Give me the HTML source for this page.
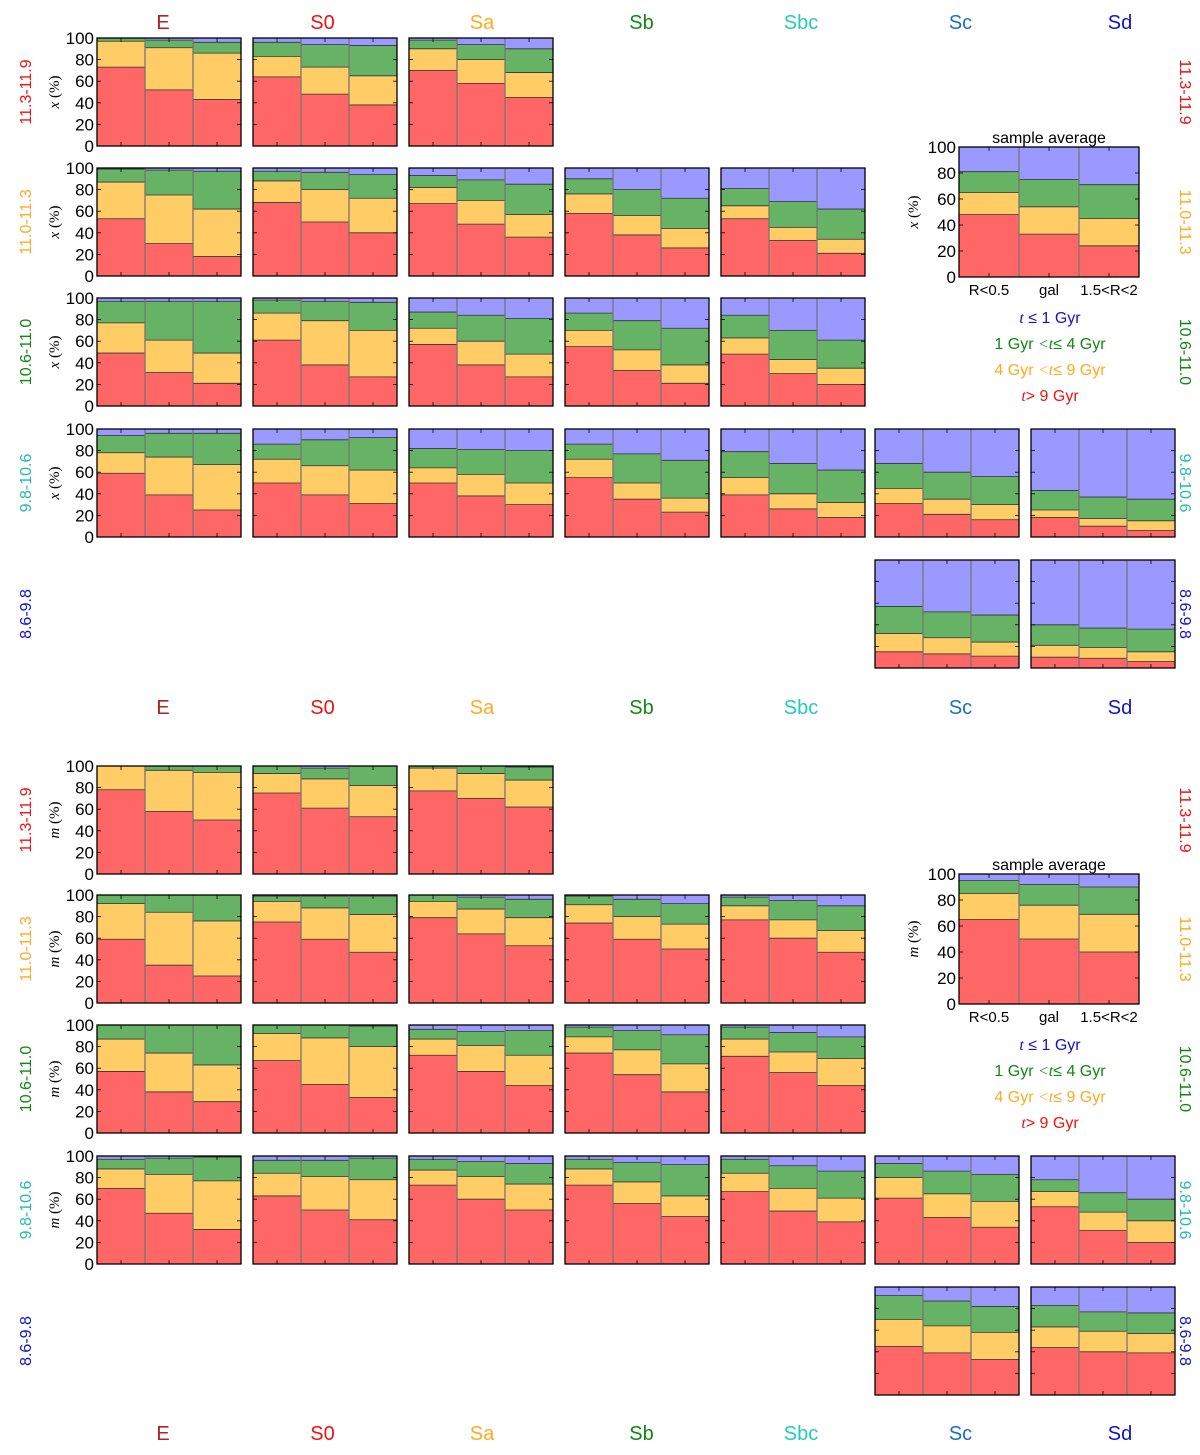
<!DOCTYPE html>
<html><head><meta charset="utf-8">
<style>
html,body{margin:0;padding:0;background:#fff;}
svg{display:block;font-family:"Liberation Sans","DejaVu Sans",sans-serif;}
</style></head>
<body>
<svg id="chart" width="1200" height="1455" viewBox="0 0 1200 1455" xmlns="http://www.w3.org/2000/svg"></svg>
<script>
// ---------- DATA ----------
const morphTypes = ["E","S0","Sa","Sb","Sbc","Sc","Sd"];
const massBins = ["11.3-11.9","11.0-11.3","10.6-11.0","9.8-10.6","8.6-9.8"];
const yTicks = [0,20,40,60,80,100];
const avgXLabels = ["R<0.5","gal","1.5<R<2"];
// panels: [row, col]
const panelCells = [[0,0],[0,1],[0,2],[1,0],[1,1],[1,2],[1,3],[1,4],[2,0],[2,1],[2,2],[2,3],[2,4],[3,0],[3,1],[3,2],[3,3],[3,4],[3,5],[3,6],[4,5],[4,6]];
// cumulative % boundaries per bar (red top, orange top, green top); blue fills to 100
const lightFracRed = [[73,52,43],[64,48,38],[70,58,45],[53,30,18],[68,50,40],[67,48,36],[58,38,26],[53,33,21],[49,31,21],[61,38,27],[57,38,27],[55,33,21],[48,30,20],[59,39,25],[50,39,31],[50,38,30],[55,35,23],[39,26,18],[31,21,16],[18,10,6],[15,13,11],[10,9,6]];
const lightFracOrange = [[97,91,86],[83,73,65],[90,80,68],[87,75,62],[88,80,72],[82,70,57],[76,56,44],[65,45,34],[77,61,49],[86,79,70],[72,60,48],[70,52,38],[63,43,35],[78,74,67],[72,66,62],[64,58,50],[72,50,36],[55,40,32],[45,35,30],[25,17,15],[32,28,24],[21,19,15]];
const lightFracGreen = [[100,98,96],[96,94,93],[98,94,90],[99,98,97],[97,96,94],[93,89,85],[90,80,72],[81,69,62],[97,97,97],[98,97,96],[87,84,81],[86,79,72],[84,70,61],[94,96,96],[86,90,92],[82,81,80],[86,77,71],[79,68,62],[68,60,56],[43,37,35],[57,52,49],[40,37,36]];
const massFracRed = [[78,58,50],[75,61,53],[77,70,62],[59,35,25],[75,59,47],[79,64,53],[74,59,50],[77,60,47],[57,38,29],[67,45,33],[72,57,44],[74,54,38],[71,56,44],[70,47,32],[63,50,41],[73,60,50],[73,56,44],[67,49,39],[61,43,34],[53,31,20],[45,39,33],[44,40,39]];
const massFracOrange = [[100,96,94],[93,88,82],[98,93,87],[92,84,76],[94,88,82],[94,87,79],[91,80,73],[90,77,67],[87,74,63],[92,88,80],[87,81,72],[89,77,64],[87,75,69],[88,83,77],[84,81,78],[87,81,74],[88,76,63],[84,70,61],[80,65,58],[67,48,40],[70,64,58],[63,59,57]];
const massFracGreen = [[100,100,100],[100,98,100],[100,100,99],[100,100,100],[99,99,99],[100,98,96],[99,96,92],[98,95,90],[100,100,100],[100,100,99],[96,94,95],[98,95,91],[98,93,89],[97,98,99],[96,96,98],[97,95,93],[97,94,92],[97,91,86],[93,86,83],[78,66,60],[92,87,82],[83,77,76]];
const avgLightRed = [48,33,24];
const avgLightOrange = [65,54,45];
const avgLightGreen = [81,75,71];
const avgMassRed = [65,50,40];
const avgMassOrange = [85,76,69];
const avgMassGreen = [95,92,90];

// ---------- STYLE ----------
const NS = "http://www.w3.org/2000/svg";
const svg = document.getElementById("chart");
const typeColors = ["#b22222","#ee1111","#ffaa22","#118811","#22ccbb","#1a6fc0","#1111cc"];
const binColors = ["#ee1111","#ffaa22","#118811","#22bbaa","#1111cc"];
const segColors = ["#ff6666","#ffcc66","#66b366","#9999ff"];
const colX = [97,253,409,565,721,875,1031];
const PW = 144, PH = 108;
const halves = [
  {rowsY:[38,168,298,429,560], labelY:[22,707], ylab:"x", red:lightFracRed, orange:lightFracOrange, green:lightFracGreen,
   avg:{x:959,y:147,w:180,h:130,red:avgLightRed,orange:avgLightOrange,green:avgLightGreen}, legendY:318},
  {rowsY:[766,895,1025,1156,1287], labelY:[1433], ylab:"m", red:massFracRed, orange:massFracOrange, green:massFracGreen,
   avg:{x:959,y:874,w:180,h:130,red:avgMassRed,orange:avgMassOrange,green:avgMassGreen}, legendY:1045}
];

function el(tag, attrs, parent){
  const e = document.createElementNS(NS, tag);
  for (const k in attrs) e.setAttribute(k, attrs[k]);
  (parent||svg).appendChild(e);
  return e;
}
function txt(s, attrs, parent){ const t = el("text", attrs, parent); t.textContent = s; return t; }

function drawPanel(g, x, y, w, h, red, orange, green, name){
  const yS = v => y + h*(1 - v/100);
  const bw = w/3;
  for (let i=0;i<3;i++){
    const bx = x + i*bw;
    const bounds = [0, red[i], orange[i], green[i], 100];
    for (let s=0;s<4;s++){
      const r = el("rect",{x:bx,y:yS(bounds[s+1]),width:bw,height:Math.max(0,yS(bounds[s])-yS(bounds[s+1])),fill:segColors[s]},g);
      
      
    }
    for (let s=1;s<=3;s++){
      if (bounds[s] < 99.5) el("line",{x1:bx,x2:bx+bw,y1:yS(bounds[s]),y2:yS(bounds[s]),stroke:"#333","stroke-width":0.8},g);
    }
    if (i>0) el("line",{x1:bx,x2:bx,y1:y,y2:y+h,stroke:"#777","stroke-width":1.3},g);
    el("line",{x1:bx+bw/2,x2:bx+bw/2,y1:y+h-4,y2:y+h,stroke:"#000","stroke-width":0.8},g);
    el("line",{x1:bx+bw/2,x2:bx+bw/2,y1:y,y2:y+4,stroke:"#000","stroke-width":0.8},g);
  }
  yTicks.forEach(t=>{
    const ty = yS(t);
    el("line",{x1:x,x2:x+4,y1:ty,y2:ty,stroke:"#000","stroke-width":0.8},g);
    el("line",{x1:x+w-4,x2:x+w,y1:ty,y2:ty,stroke:"#000","stroke-width":0.8},g);
  });
  el("rect",{x:x,y:y,width:w,height:h,fill:"none",stroke:"#000","stroke-width":1.3},g);
}

function yAxis(g, x, y, h, lab, labX){
  yTicks.forEach(t=>{
    const tt = txt(String(t),{x:x-3,y:y+h*(1-t/100)+6,"font-size":17,"text-anchor":"end",fill:"#000"},g);
    
    
  });
  const t = el("text",{x:labX,y:y+h/2,"font-size":15,"text-anchor":"middle",transform:`rotate(-90 ${labX} ${y+h/2})`,"font-family":"Liberation Serif, serif"},g);
  
  
  const it = el("tspan",{"font-style":"italic"},t); it.textContent = lab;
  const rest = el("tspan",{},t); rest.textContent = " (%)";
}

halves.forEach((H, hi)=>{
  const hg = el("g",{});
  
  
  H.labelY.forEach(ly=>{
    morphTypes.forEach((m,c)=>{
      const t = txt(m,{x:163+c*159.5,y:ly+7,"font-size":20,"text-anchor":"middle",fill:typeColors[c]},hg);
      
      
    });
  });
  massBins.forEach((b,r)=>{
    const cy = H.rowsY[r] + PH/2;
    const l = txt(b,{x:25,y:cy+6,"font-size":16,"text-anchor":"middle",fill:binColors[r],transform:`rotate(-90 25 ${cy})`},hg);
    
    
    const rr = txt(b,{x:1186,y:cy+6,"font-size":16,"text-anchor":"middle",fill:binColors[r],transform:`rotate(90 1186 ${cy})`},hg);
    
    
  });
  panelCells.forEach((cell,i)=>{
    const [r,c] = cell;
    const pg = el("g",{},hg);
    
    
    drawPanel(pg, colX[c], H.rowsY[r], PW, PH, H.red[i], H.orange[i], H.green[i], 'panel');
    if (c===0) yAxis(pg, colX[c], H.rowsY[r], PH, H.ylab, 59);
  });
  const A = H.avg;
  const ag = el("g",{},hg);
  
  
  drawPanel(ag, A.x, A.y, A.w, A.h, A.red, A.orange, A.green, 'average');
  yAxis(ag, A.x, A.y, A.h, H.ylab, 918);
  const st = txt("sample average",{x:A.x+A.w/2,y:A.y-4,"font-size":16,"text-anchor":"middle"},ag);
  
  
  avgXLabels.forEach((s,i)=>{
    const xl = txt(s,{x:A.x+A.w/6*(2*i+1),y:A.y+A.h+18,"font-size":15,"text-anchor":"middle"},ag);
    
    
  });
  const lg = el("g",{},hg);
  
  
  const legTexts = [
    [["t",true],[" ≤ 1 Gyr",false]],
    [["1 Gyr ",false],["<t",true],["≤  4 Gyr",false]],
    [["4 Gyr ",false],["<t",true],["≤ 9 Gyr",false]],
    [["t",true],["> 9 Gyr",false]]
  ];
  const legCols = ["#1111cc","#118811","#ffaa22","#ee1111"];
  legTexts.forEach((parts,i)=>{
    const t = el("text",{x:1050,y:H.legendY+i*26+5,"font-size":16,"text-anchor":"middle",fill:legCols[i]},lg);
    
    
    parts.forEach(p=>{
      const sp = el("tspan", p[1]?{"font-style":"italic","font-family":"Liberation Serif, serif"}:{}, t);
      sp.textContent = p[0];
    });
  });
});
</script>
</body></html>
